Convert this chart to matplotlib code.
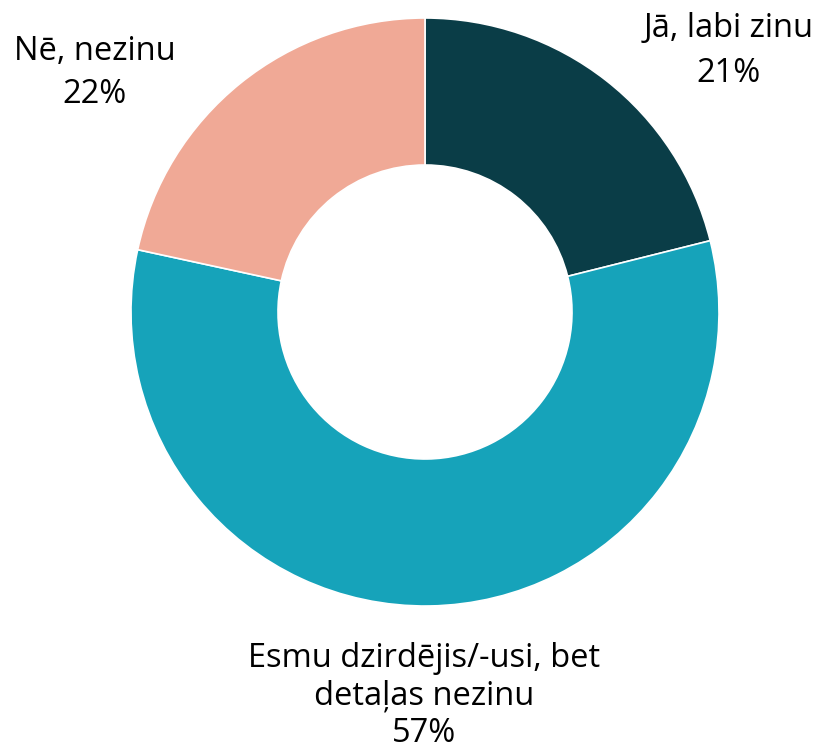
import matplotlib.pyplot as plt

labels = ["Jā, labi zinu", "Esmu dzirdējis/-usi, bet\ndetaļas nezinu", "Nē, nezinu"]
shares = [21.1, 57.3, 21.6]          # slice sizes
pct_labels = ["21%", "57%", "22%"]   # printed percentages
colors = ["#0A3D47", "#16A3BA", "#F0A996"]

plt.rcParams["font.family"] = ["Open Sans", "DejaVu Sans"]

W, H = 825, 756
fig = plt.figure(figsize=(W / 100, H / 100), dpi=100)
# donut centre ~(425, 312) px, outer radius ~294 px
r_px = 294
cx, cy = 425, H - 312
ax = fig.add_axes([(cx - r_px) / W, (cy - r_px) / H, 2 * r_px / W, 2 * r_px / H])

ax.pie(shares, colors=colors, startangle=90, counterclock=False,
       wedgeprops=dict(width=0.5, edgecolor="white", linewidth=1.2), radius=1.0)
ax.set_xlim(-1, 1)
ax.set_ylim(-1, 1)
ax.set_aspect("equal")
ax.axis("off")

fs = 23.5


def put_lines(x, baselines, lines):
    for yb, line in zip(baselines, lines):
        fig.text(x / W, 1 - yb / H, line, ha="center", va="baseline", fontsize=fs)


put_lines(729, [37, 82], [labels[0], pct_labels[0]])
put_lines(95, [60, 103], [labels[2], pct_labels[2]])
put_lines(424, [667, 704, 742], labels[1].split("\n") + [pct_labels[1]])

fig.savefig("out.png", dpi=100)
plt.close(fig)
